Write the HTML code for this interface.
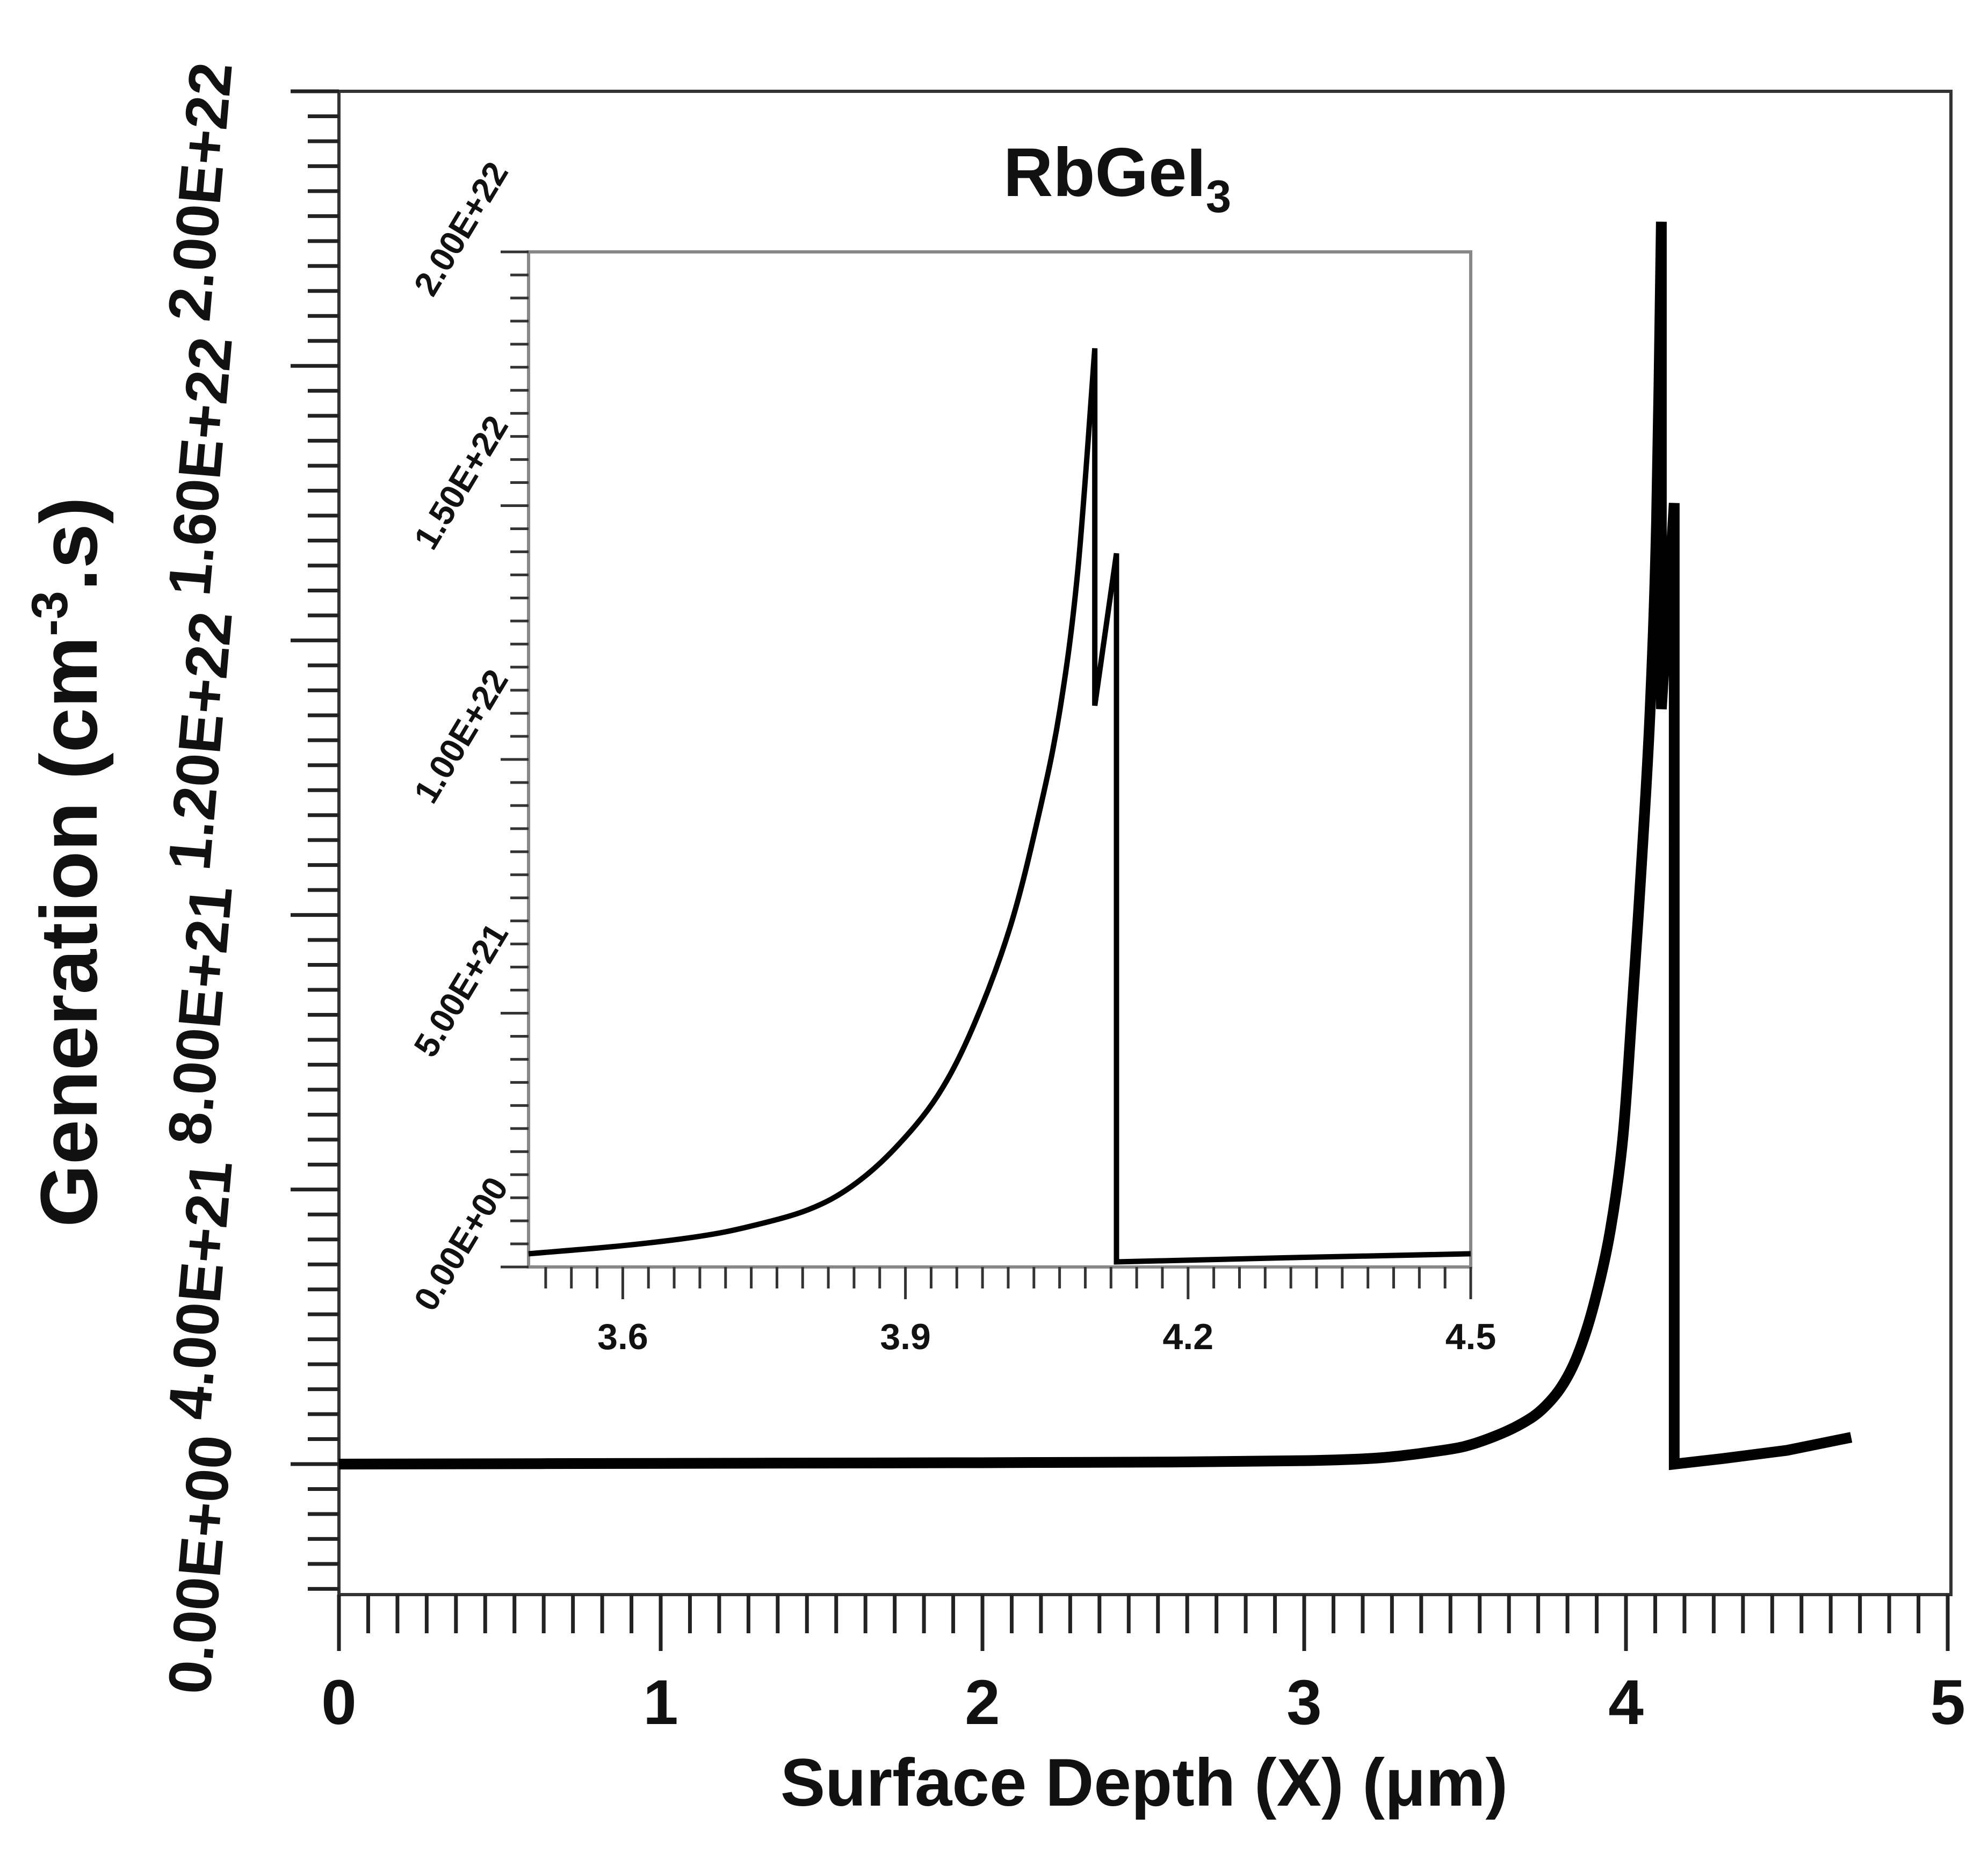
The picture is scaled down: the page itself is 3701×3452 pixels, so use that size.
<!DOCTYPE html>
<html><head><meta charset="utf-8"><style>
html,body{margin:0;padding:0;background:#fff;}
svg{display:block;font-family:"Liberation Sans",Arial,sans-serif;font-weight:bold;}
</style></head><body>
<svg id="chart" width="3701" height="3452" viewBox="0 0 3701 3452" xmlns="http://www.w3.org/2000/svg">
<rect width="3701" height="3452" fill="#fff"/>
<g id="main"></g>
<g id="inset"></g>
<text x="2130" y="3362" font-size="125" text-anchor="middle" fill="#111">Surface Depth (X) (μm)</text>
<text transform="translate(180,1605) rotate(-90)" font-size="150" text-anchor="middle" fill="#111">Generation (cm<tspan dy="-55" font-size="95">-3</tspan><tspan dy="55">.s)</tspan></text>
<text x="2080" y="365" font-size="128" text-anchor="middle" fill="#111">RbGeI<tspan dy="30" font-size="85">3</tspan></text>
</svg>
<script>
const mainX = [0, 1, 2, 2.6, 3, 3.2, 3.3, 3.4, 3.5, 3.6, 3.68, 3.74, 3.8, 3.85, 3.9, 3.95, 3.99, 4.02, 4.05, 4.075, 4.095, 4.11, 4.11, 4.15, 4.15, 4.3, 4.5, 4.7];
const mainY = [0, 0.001e22, 0.002e22, 0.003e22, 0.005e22, 0.008e22, 0.012e22, 0.018e22, 0.026e22, 0.042e22, 0.06e22, 0.08e22, 0.113e22, 0.159e22, 0.232e22, 0.337e22, 0.474e22, 0.669e22, 0.887e22, 1.098e22, 1.373e22, 1.81e22, 1.10e22, 1.40e22, 0.0, 0.008e22, 0.02e22, 0.039e22];
const insetX = [3.5, 3.6, 3.68, 3.735, 3.797, 3.843, 3.888, 3.934, 3.972, 4.011, 4.041, 4.064, 4.083, 4.101, 4.101, 4.124, 4.124, 4.3, 4.5];
const insetY = [0.026e22, 0.042e22, 0.06e22, 0.08e22, 0.113e22, 0.159e22, 0.232e22, 0.337e22, 0.474e22, 0.669e22, 0.887e22, 1.098e22, 1.373e22, 1.81e22, 1.106e22, 1.406e22, 0.01e22, 0.018e22, 0.026e22];
const mainXTicks = [0, 1, 2, 3, 4, 5];
const mainXLabels = ["0", "1", "2", "3", "4", "5"];
const mainYTicks = [0, 4e21, 8e21, 1.2e22, 1.6e22, 2e22];
const mainYLabels = ["0.00E+00", "4.00E+21", "8.00E+21", "1.20E+22", "1.60E+22", "2.00E+22"];
const insetXTicks = [3.6, 3.9, 4.2, 4.5];
const insetXLabels = ["3.6", "3.9", "4.2", "4.5"];
const insetYTicks = [0, 5e21, 1e22, 1.5e22, 2e22];
const insetYLabels = ["0.00E+00", "5.00E+21", "1.00E+22", "1.50E+22", "2.00E+22"];

const NS = "http://www.w3.org/2000/svg";
function mk(parent, tag, attrs) {
  const e = document.createElementNS(NS, tag);
  for (const k in attrs) e.setAttribute(k, attrs[k]);
  parent.appendChild(e);
  return e;
}
function curvePath(pts, smoothEnd) {
  let d = "M" + pts[0][0] + "," + pts[0][1];
  for (let i = 0; i < pts.length - 1; i++) {
    const p1 = pts[i], p2 = pts[i + 1];
    if (i + 1 <= smoothEnd) {
      const p0 = pts[Math.max(0, i - 1)], p3 = pts[Math.min(smoothEnd, i + 2)];
      const c1 = [p1[0] + (p2[0] - p0[0]) / 6, p1[1] + (p2[1] - p0[1]) / 6];
      const c2 = [p2[0] - (p3[0] - p1[0]) / 6, p2[1] - (p3[1] - p1[1]) / 6];
      d += " C" + c1[0] + "," + c1[1] + " " + c2[0] + "," + c2[1] + " " + p2[0] + "," + p2[1];
    } else {
      d += " L" + p2[0] + "," + p2[1];
    }
  }
  return d;
}
function peakIndex(ys) { let m = 0; ys.forEach((v, i) => { if (v > ys[m]) m = i; }); return m; }

const M = {l: 631, r: 3632, t: 170, b: 2969, x0: 0, x1: 5.01, yZero: 2726, yTop: 170, vTop: 2e22};
const mx = v => M.l + (v - M.x0) / (M.x1 - M.x0) * (M.r - M.l);
const my = v => M.yZero - v / M.vTop * (M.yZero - M.yTop);
const gM = document.getElementById("main");
let fr = mk(gM, "rect", {x: M.l, y: M.t, width: M.r - M.l, height: M.b - M.t, fill: "none", stroke: "#333", "stroke-width": 6});


const xStep = 1 / 11;
for (let i = 0; ; i++) {
  const v = i * xStep; if (v > 5.0001) break;
  const isMaj = Math.abs(v - Math.round(v)) < 1e-6;
  const t = mk(gM, "line", {x1: mx(v), x2: mx(v), y1: M.b, y2: M.b + (isMaj ? 105 : 72), stroke: "#222", "stroke-width": 7});
  
  
}
mainXTicks.forEach((v, i) => {
  const t = mk(gM, "text", {x: mx(v), y: 3210, "font-size": 118, "text-anchor": "middle", fill: "#111"});
  t.textContent = mainXLabels[i];
  
  
});
const yStep = 4e21 / 11;
for (let i = -6; i < 70; i++) {
  const v = i * yStep; const py = my(v);
  if (py > M.b + 1 || py < M.t - 1) continue;
  const isMaj = Math.abs(v / 4e21 - Math.round(v / 4e21)) < 1e-6;
  const t = mk(gM, "line", {x1: M.l - (isMaj ? 90 : 58), x2: M.l, y1: py, y2: py, stroke: "#222", "stroke-width": 7});
  
  
}
mainYTicks.forEach((v, i) => {
  const py = my(v) - 50;
  const t = mk(gM, "text", {transform: `translate(432,${py}) rotate(-85)`, "font-size": 112, "text-anchor": "end", fill: "#111"});
  t.textContent = mainYLabels[i];
  
  
});
const mainPts = mainX.map((x, i) => [mx(x), my(mainY[i])]);
let p = mk(gM, "path", {d: curvePath(mainPts, peakIndex(mainY)), fill: "none", stroke: "#000", "stroke-width": 20, "stroke-linejoin": "miter", "stroke-miterlimit": 3});



const I = {l: 984, r: 2738, t: 469, b: 2359, x0: 3.5, x1: 4.5, vTop: 2e22};
const ix = v => I.l + (v - I.x0) / (I.x1 - I.x0) * (I.r - I.l);
const iy = v => I.b - v / I.vTop * (I.b - I.t);
const gI = document.getElementById("inset");
fr = mk(gI, "rect", {x: I.l, y: I.t, width: I.r - I.l, height: I.b - I.t, fill: "#fff", stroke: "#888", "stroke-width": 6});


for (let i = 0; i <= 40; i++) {
  const v = 3.6 - 3 * 0.3 / 11 + i * 0.3 / 11; if (v > 4.5001 || v < 3.5) continue;
  const isMaj = insetXTicks.some(t => Math.abs(t - v) < 1e-6);
  const t = mk(gI, "line", {x1: ix(v), x2: ix(v), y1: I.b, y2: I.b + (isMaj ? 60 : 40), stroke: "#333", "stroke-width": 5});
  
  
}
insetXTicks.forEach((v, i) => {
  const t = mk(gI, "text", {x: ix(v), y: 2512, "font-size": 68, "text-anchor": "middle", fill: "#111"});
  t.textContent = insetXLabels[i];
  
  
});
for (let i = 0; i <= 44; i++) {
  const v = i * 5e21 / 11;
  const isMaj = Math.abs(v / 5e21 - Math.round(v / 5e21)) < 1e-6;
  const t = mk(gI, "line", {x1: I.l - (isMaj ? 52 : 34), x2: I.l, y1: iy(v), y2: iy(v), stroke: "#333", "stroke-width": 5});
  
  
}
insetYTicks.forEach((v, i) => {
  const t = mk(gI, "text", {transform: `translate(948,${iy(v) - 150}) rotate(-59)`, "font-size": 64, "text-anchor": "end", fill: "#111"});
  t.textContent = insetYLabels[i];
  
  
});
const insetPts = insetX.map((x, i) => [ix(x), iy(insetY[i])]);
p = mk(gI, "path", {d: curvePath(insetPts, peakIndex(insetY)), fill: "none", stroke: "#000", "stroke-width": 10, "stroke-linejoin": "miter", "stroke-miterlimit": 3});


</script>
</body></html>
